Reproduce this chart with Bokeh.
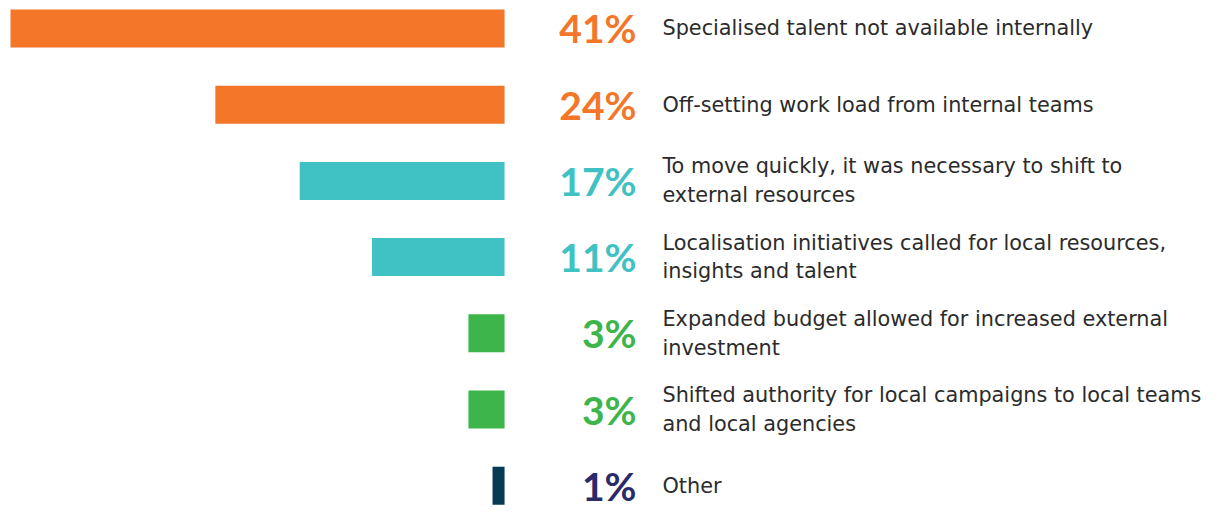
from bokeh.plotting import figure
from bokeh.models import ColumnDataSource, Range1d
from bokeh.embed import file_html
from bokeh.resources import INLINE
from bokeh.core.properties import value

categories = [
    "Specialised talent not available internally",
    "Off-setting work load from internal teams",
    "To move quickly, it was necessary to shift to\nexternal resources",
    "Localisation initiatives called for local resources,\ninsights and talent",
    "Expanded budget allowed for increased external\ninvestment",
    "Shifted authority for local campaigns to local teams\nand local agencies",
    "Other",
]
values = [41, 24, 17, 11, 3, 3, 1]
bar_colors = ["#F37629", "#F37629", "#40C1C3", "#40C1C3", "#3DB54A", "#3DB54A", "#073B54"]
label_colors = ["#F37629", "#F37629", "#40C1C3", "#40C1C3", "#3DB54A", "#3DB54A", "#2A2B6A"]

idx = list(range(len(values)))
src = ColumnDataSource(dict(
    y=idx,
    left=[-v for v in values],
    right=[0] * len(values),
    pct=[f"{v}%" for v in values],
    cat=categories,
    bc=bar_colors,
    lc=label_colors,
    px=[10.95] * len(values),
    tx=[13.1] * len(values),
))

W, H = 1203, 510
p = figure(width=W, height=H, output_backend="svg", toolbar_location=None,
           x_range=Range1d(-41.83, 58.0), y_range=Range1d(6.325, -0.367),
           min_border=0)
p.outline_line_color = None
p.axis.visible = False
p.grid.visible = False
p.background_fill_color = "white"
p.border_fill_color = "white"

p.hbar(y="y", left="left", right="right", height=0.499, fill_color="bc",
       line_color=None, source=src)
p.text(x="px", y="y", text="pct", text_color="lc", text_align="right",
       text_baseline="middle", text_font=value("Lato"), text_font_style="bold",
       text_font_size="39px", source=src)
p.text(x="tx", y="y", text="cat", text_color="#2B2B2B", text_align="left",
       text_baseline="middle", text_font=value("DejaVu Sans"), text_font_size="20.8px",
       text_line_height=1.2, source=src)

open("out.html", "w").write(file_html(p, INLINE))
